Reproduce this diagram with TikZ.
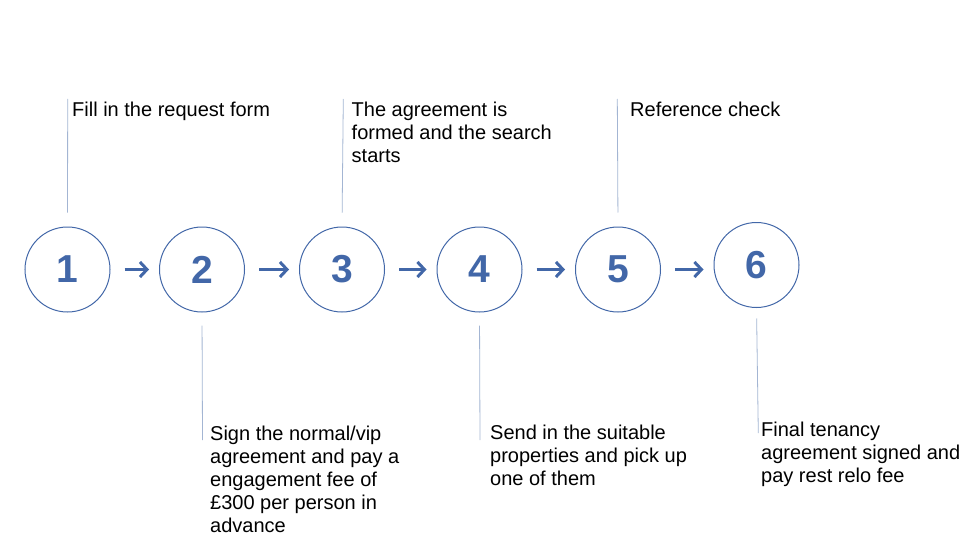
\documentclass[tikz,border=0pt]{standalone}
\usepackage{fontspec}
\setmainfont{Liberation Sans}
\usepackage{tikz}
\usetikzlibrary{positioning, arrows.meta}

\definecolor{stepblue}{HTML}{4267A8}
\definecolor{linkgray}{HTML}{A3B5D3}

\begin{document}
\begin{tikzpicture}[x=1pt, y=-1pt,
	stepnode/.style={circle, draw=stepblue, line width=1pt, minimum size=85pt, inner sep=0pt,
		text=stepblue, font=\fontsize{39}{40}\selectfont\bfseries},
	nextarrow/.style={draw=stepblue, line width=3pt, -{Straight Barb[length=7pt, width=15pt]},
		shorten <=14pt, shorten >=10pt},
	link/.style={draw=linkgray, line width=0.8pt},
	caption/.style={anchor=base west, inner sep=0pt, align=left, font=\fontsize{20}{23}\selectfont}]
	\useasboundingbox (0,0) rectangle (960,540);
	\node[stepnode] (c1) at (67.5,269.5) {1};
	\node[stepnode] (c2) at (202,269.5) {2};
	\node[stepnode] (c3) at (342,269.5) {3};
	\node[stepnode] (c4) at (479.5,269.5) {4};
	\node[stepnode] (c5) at (618,269.5) {5};
	\node[stepnode] (c6) at (756.5,265) {6};
	% captions (placed at the baseline of their last line)
	\node[caption] (s1) at (72,117) {Fill in the request form};
	\node[caption] (s2) at (210,532) {Sign the normal/vip\\agreement and pay a\\engagement fee of\\\pounds300 per person in\\advance};
	\node[caption] (s3) at (351.5,163) {The agreement is\\formed and the search\\starts};
	\node[caption] (s4) at (490,485) {Send in the suitable\\properties and pick up\\one of them};
	\node[caption] (s5) at (630,117) {Reference check};
	\node[caption] (s6) at (761,482) {Final tenancy\\agreement signed and\\pay rest relo fee};
	% line ends
	\coordinate (t1) at (67.7,99);
	\coordinate (t3) at (343.3,99);
	\coordinate (t5) at (617.3,99);
	\coordinate (b2) at (202.5,440);
	\coordinate (b4) at (480,440);
	\coordinate (b6) at (758.3,433);
	\path
		(c1.east) edge [nextarrow] (c2.west)
		(c2.east) edge [nextarrow] (c3.west)
		(c3.east) edge [nextarrow] (c4.west)
		(c4.east) edge [nextarrow] (c5.west)
		(c5.east) edge [nextarrow] (c5.east -| c6.west)
	;
	\path
		(t1) edge [link, shorten >=14pt] (c1.north)
		(t3) edge [link, shorten >=14pt] (c3.north)
		(t5) edge [link, shorten >=14pt] (c5.north)
		(c2.south) edge [link, shorten <=13pt] (b2)
		(c4.south) edge [link, shorten <=13pt] (b4)
		(c6.south) edge [link, shorten <=10.5pt] (b6)
	;
\end{tikzpicture}
\end{document}
